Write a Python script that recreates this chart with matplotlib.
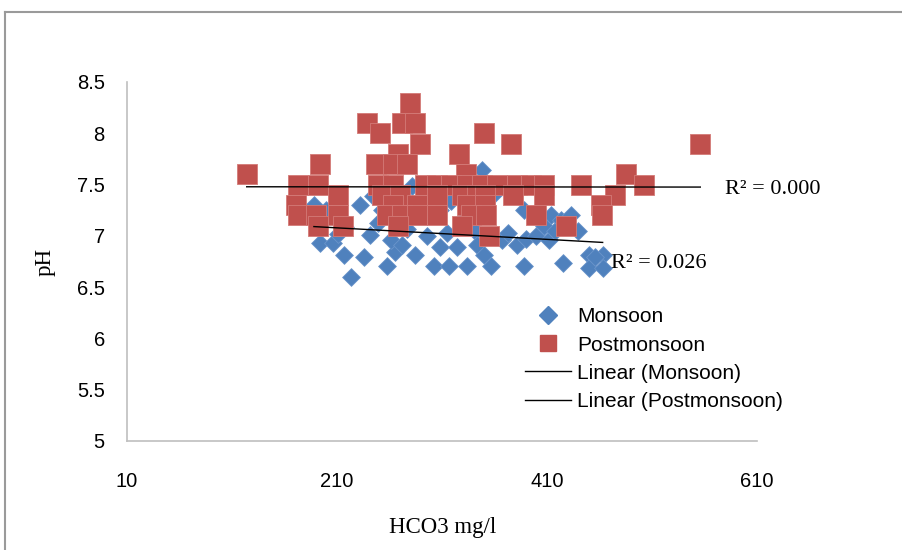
import numpy as np
import matplotlib
matplotlib.use("Agg")
import matplotlib.pyplot as plt
from matplotlib.lines import Line2D

# ---- data ----
monsoon_x = [188, 200, 211, 194, 206, 218, 211, 223, 236, 241, 249, 253, 258, 265, 261,
             272, 277, 284, 271, 281, 302, 308, 317, 324, 334, 315, 296, 329, 341, 343,
             350, 357, 348, 360, 343, 367, 373, 381, 388, 390, 400, 407, 412, 418, 414,
             423, 433, 440, 450, 463, 450, 463, 456, 425, 388, 308, 319, 232, 244, 217]
monsoon_y = [7.30, 7.25, 7.34, 6.93, 6.93, 7.09, 7.02, 6.60, 6.79, 7.01, 7.13, 7.25, 6.71, 6.84, 6.96,
             6.91, 7.07, 6.81, 7.34, 7.49, 6.71, 6.89, 6.71, 6.89, 6.71, 7.03, 7.00, 7.15, 7.05, 6.91,
             6.81, 6.71, 7.64, 7.41, 7.30, 6.96, 7.03, 6.91, 6.71, 6.97, 7.00, 7.10, 6.96, 7.05, 7.20,
             7.15, 7.20, 7.05, 6.81, 6.81, 6.69, 6.69, 6.79, 6.74, 7.25, 7.25, 7.34, 7.30, 7.39, 6.81]

post_x = [280,
          239, 272, 284,
          251, 350,
          289, 376, 556,
          268, 326,
          194, 247, 263, 277,
          124, 333, 485,
          173, 192, 249, 263, 294, 305, 319, 334, 348, 362, 381, 395, 407, 442, 502,
          211, 253, 270, 305, 329, 343, 351, 378, 407, 475,
          171, 263, 286, 334, 351, 461,
          173, 190, 211, 258, 272, 286, 305, 338, 352, 400, 462,
          192, 216, 268, 329, 428,
          355]
post_y = [8.3,
          8.1, 8.1, 8.1,
          8.0, 8.0,
          7.9, 7.9, 7.9,
          7.8, 7.8,
          7.7, 7.7, 7.7, 7.7,
          7.6, 7.6, 7.6,
          7.5, 7.5, 7.5, 7.5, 7.5, 7.5, 7.5, 7.5, 7.5, 7.5, 7.5, 7.5, 7.5, 7.5, 7.5,
          7.4, 7.4, 7.4, 7.4, 7.4, 7.4, 7.4, 7.4, 7.4, 7.4,
          7.3, 7.3, 7.3, 7.3, 7.3, 7.3,
          7.2, 7.2, 7.2, 7.2, 7.2, 7.2, 7.2, 7.2, 7.2, 7.2, 7.2,
          7.1, 7.1, 7.1, 7.1, 7.1,
          7.0]

series_names = ["Monsoon", "Postmonsoon", "Linear (Monsoon)", "Linear (Postmonsoon)"]
r2_labels = ["R\u00b2 = 0.026", "R\u00b2 = 0.000"]
x_ticks = [10, 210, 410, 610]
y_ticks = [5, 5.5, 6, 6.5, 7, 7.5, 8, 8.5]
x_label = "HCO3 mg/l"
y_label = "pH"

blue = "#4F81BD"
red = "#C0504D"
serif = ["Liberation Serif", "DejaVu Serif"]
sans = ["Liberation Sans", "DejaVu Sans"]

fig = plt.figure(figsize=(9.03, 5.5), dpi=100)
ax = fig.add_axes([127/903, 1-441/550, 630/903, (441-82)/550])

mx = np.array(monsoon_x, float); my = np.array(monsoon_y, float)
px = np.array(post_x, float); py = np.array(post_y, float)

ax.scatter(mx, my, marker="D", s=82, color=blue, edgecolors="#6a95cb", linewidths=0.6, zorder=2)
ax.scatter(px, py, marker="s", s=190, color=red, edgecolors="#d47a77", linewidths=0.6, zorder=3)

# linear trend lines
def trend(x, y):
    k, b = np.polyfit(x, y, 1)
    xs = np.array([x.min(), x.max()])
    return xs, k*xs + b
tx, ty = trend(mx, my)
ax.plot(tx, ty, color="black", lw=1.0, zorder=4)
tx2, ty2 = trend(px, py)
ax.plot(tx2, ty2, color="black", lw=1.0, zorder=4)

ax.text(tx[1] + 8, ty[1] - 0.21, r2_labels[0], family=serif, fontsize=16, va="center", ha="left")
ax.text(tx2[1] + 24, ty2[1] - 0.02, r2_labels[1], family=serif, fontsize=16, va="center", ha="left")

ax.set_xlim(10, 610)
ax.set_ylim(5, 8.5)
ax.set_xticks(x_ticks)
ax.set_yticks(y_ticks)
ax.set_xticklabels([str(v) for v in x_ticks], family=sans, fontsize=14.5)
ax.set_yticklabels([("%g" % v) for v in y_ticks], family=sans, fontsize=14.5)
ax.tick_params(axis="both", length=0)
ax.tick_params(axis="x", pad=22)
ax.tick_params(axis="y", pad=16)
for s in ["top", "right"]:
    ax.spines[s].set_visible(False)
for s in ["left", "bottom"]:
    ax.spines[s].set_color("#bfbfbf")
    ax.spines[s].set_linewidth(1.2)

fig.text(443/903, 1-528/550, x_label, family=serif, fontsize=16.5, ha="center", va="center")
fig.text(45/903, 1-262/550, y_label, family=serif, fontsize=16.5, ha="center", va="center", rotation=90)

handles = [
    Line2D([], [], marker="D", ls="none", color=blue, markersize=9),
    Line2D([], [], marker="s", ls="none", color=red, markersize=12),
    Line2D([], [], color="black", lw=1.0),
    Line2D([], [], color="black", lw=1.0),
]
leg = fig.legend(handles, series_names, loc="upper left", bbox_to_anchor=(515/903, 1-297/550),
                 frameon=False, prop={"family": sans, "size": 15}, labelspacing=0.44,
                 handlelength=2.2, handletextpad=0.3, borderpad=0)

# outer chart border
fig.add_artist(Line2D([5/903, 5/903], [0, 1-12/550], transform=fig.transFigure, color="#9a9a9a", lw=1.5))
fig.add_artist(Line2D([5/903, 1], [1-12/550, 1-12/550], transform=fig.transFigure, color="#9a9a9a", lw=1.5))

fig.savefig("out.png", dpi=100)
